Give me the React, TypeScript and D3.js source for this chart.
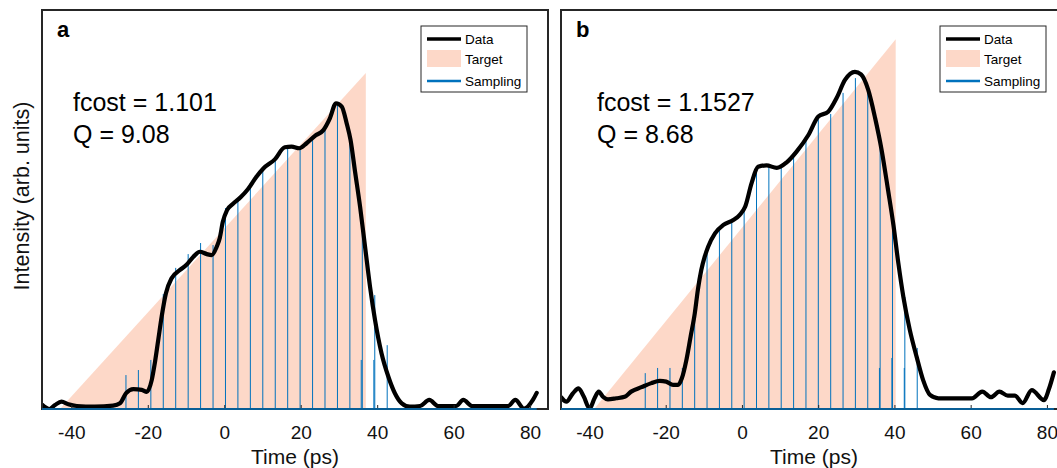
import React from 'react';
import * as d3 from 'd3';

// ---------- data ----------
const xTicks = [-40, -20, 0, 20, 40, 60, 80];
const legendLabels = ['Data', 'Target', 'Sampling'];
const panelLetters = ['a', 'b'];
const fcostValues = ['1.101', '1.1527'];
const qValues = ['9.08', '8.68'];
const xTitle = 'Time (ps)';
const yTitle = 'Intensity (arb. units)';

// panel a
const dataTimeA = [-47.8, -45.9, -44.4, -42.7, -40.9, -38.7, -34.0, -29.2, -27.4, -25.8, -23.9, -21.7, -20.4, -19.1, -18.3, -17.4, -16.5, -15.4, -13.9, -11.7, -10.0, -8.2, -6.5, -4.7, -3.4, -2.1, -1.3, -0.5, 0.6, 2.1, 4.2, 6.1, 8.2, 10.1, 13.1, 15.7, 17.5, 19.5, 21.4, 23.6, 25.8, 27.5, 29.1, 30.6, 31.9, 32.9, 34.1, 35.4, 36.7, 38.0, 39.3, 41.0, 42.8, 44.5, 46.3, 48.4, 51.1, 53.5, 55.8, 60.5, 62.4, 64.7, 74.1, 76.0, 78.3, 80.6, 81.6];
const dataIntA = [0.013, 0.0, 0.012, 0.022, 0.014, 0.009, 0.007, 0.010, 0.017, 0.047, 0.059, 0.057, 0.051, 0.086, 0.136, 0.205, 0.275, 0.344, 0.389, 0.414, 0.429, 0.453, 0.468, 0.461, 0.458, 0.483, 0.509, 0.557, 0.592, 0.610, 0.631, 0.655, 0.690, 0.716, 0.743, 0.779, 0.781, 0.776, 0.791, 0.813, 0.830, 0.865, 0.910, 0.900, 0.850, 0.801, 0.705, 0.602, 0.483, 0.364, 0.265, 0.166, 0.096, 0.047, 0.017, 0.007, 0.009, 0.027, 0.009, 0.009, 0.027, 0.009, 0.009, 0.027, 0.001, 0.027, 0.048];
const targetTimeA = [-43.1, 36.9, 36.9];
const targetIntA = [0, 1, 0];
const sampleTimeA = [-25.84, -22.59, -19.33, -16.08, -12.83, -9.57, -6.32, -3.06, 0.19, 3.44, 6.70, 9.95, 13.21, 16.46, 19.71, 22.97, 26.22, 29.48, 32.73, 35.98, 39.24, 42.49];
const sampleIntA = [0.101, 0.116, 0.146, 0.342, 0.420, 0.461, 0.494, 0.488, 0.598, 0.628, 0.673, 0.717, 0.744, 0.780, 0.777, 0.810, 0.839, 0.908, 0.810, 0.583, 0.339, 0.190];
const extraTimeA = [35.7, 39.0];
const extraIntA = [0.146, 0.146];

// panel b
const dataTimeB = [-47.6, -46.2, -44.5, -43.0, -41.6, -40.1, -38.8, -37.7, -36.6, -35.3, -33.1, -30.9, -29.2, -26.5, -23.9, -21.7, -20.0, -18.2, -16.9, -15.9, -14.7, -13.6, -12.5, -11.7, -10.8, -9.9, -9.0, -7.2, -5.0, -2.4, -0.7, 0.7, 2.4, 4.1, 6.3, 9.0, 11.6, 14.2, 17.3, 19.9, 22.5, 24.7, 26.9, 29.5, 31.1, 33.0, 34.8, 36.5, 38.2, 39.6, 40.9, 42.2, 43.9, 45.7, 47.4, 49.2, 51.4, 60.2, 62.9, 65.2, 67.4, 69.6, 71.5, 73.5, 75.9, 79.1, 80.4, 81.7];
const dataIntB = [0.032, 0.020, 0.042, 0.056, 0.033, 0.001, 0.029, 0.047, 0.033, 0.026, 0.029, 0.033, 0.047, 0.059, 0.070, 0.076, 0.074, 0.065, 0.065, 0.083, 0.133, 0.196, 0.259, 0.322, 0.376, 0.412, 0.439, 0.475, 0.498, 0.511, 0.525, 0.547, 0.611, 0.655, 0.659, 0.652, 0.667, 0.696, 0.741, 0.791, 0.804, 0.841, 0.890, 0.912, 0.905, 0.863, 0.787, 0.701, 0.592, 0.498, 0.394, 0.304, 0.214, 0.141, 0.078, 0.038, 0.029, 0.029, 0.047, 0.032, 0.047, 0.036, 0.036, 0.016, 0.051, 0.024, 0.054, 0.099];
const targetTimeB = [-38.9, 40.2, 40.2];
const targetIntB = [0, 1, 0];
const sampleTimeB = [-25.50, -22.26, -19.01, -15.77, -12.53, -9.29, -6.04, -2.80, 0.44, 3.69, 6.93, 10.17, 13.42, 16.66, 19.90, 23.15, 26.39, 29.63, 32.87, 36.12, 39.36, 42.60, 45.85];
const sampleIntB = [0.097, 0.111, 0.111, 0.111, 0.249, 0.419, 0.490, 0.514, 0.546, 0.649, 0.657, 0.655, 0.684, 0.728, 0.784, 0.798, 0.855, 0.895, 0.866, 0.741, 0.484, 0.303, 0.165];
const extraTimeB = [35.94, 39.2, 42.45];
const extraIntB = [0.111, 0.138, 0.111];

// ---------- layout ----------
const W = 1057;
const H = 468;
const PW = 506;
const TOP = 10;
const BOTTOM = 409;
const FONT = '"Liberation Sans", Arial, Helvetica, sans-serif';
const BLUE = '#0072BD';
const PINK = '#FDD8C8';
const AXIS = '#262626';

const panels = [
  {
    left: 42, xDomain: [-47.8, 84.55], yMax: 1.1875,
    t: dataTimeA, v: dataIntA, tt: targetTimeA, tv: targetIntA,
    st: sampleTimeA, sv: sampleIntA, et: extraTimeA, ev: extraIntA,
    textX: 73,
  },
  {
    left: 561, xDomain: [-47.6, 85.14], yMax: 1.0792,
    t: dataTimeB, v: dataIntB, tt: targetTimeB, tv: targetIntB,
    st: sampleTimeB, sv: sampleIntB, et: extraTimeB, ev: extraIntB,
    textX: 597,
  },
];

function Panel({ p, idx }: { p: any; idx: number }) {
  const x = d3.scaleLinear().domain(p.xDomain).range([p.left, p.left + PW]);
  const y = d3.scaleLinear().domain([0, p.yMax]).range([BOTTOM, TOP]);
  const dataLine = d3
    .line<number>()
    .x((d) => x(d))
    .y((_, i) => y(p.v[i]))
    .curve(d3.curveMonotoneX);
  const targetArea = d3
    .line<number>()
    .x((d) => x(d))
    .y((_, i) => y(p.tv[i]));
  const clipId = `clip-${idx}`;
  const lg = { x: p.left + 379, y: 26, w: 106, h: 66 };
  const cx = p.left + PW / 2;
  return (
    <g>
      <defs>
        <clipPath id={clipId}>
          <rect x={p.left} y={TOP} width={PW} height={BOTTOM - TOP} />
        </clipPath>
      </defs>
      <rect x={p.left} y={TOP} width={PW} height={BOTTOM - TOP} fill="#fff" />
      <g clipPath={`url(#${clipId})`}>
        <path d={targetArea(p.tt) + 'Z'} fill={PINK} />
        {p.st.map((t: number, i: number) => (
          <line key={'s' + i} x1={x(t)} x2={x(t)} y1={y(0)} y2={y(p.sv[i])} stroke={BLUE} strokeWidth={1} />
        ))}
        {p.et.map((t: number, i: number) => (
          <line key={'e' + i} x1={x(t)} x2={x(t)} y1={y(0)} y2={y(p.ev[i])} stroke={BLUE} strokeWidth={1} />
        ))}
        <path d={dataLine(p.t) || ''} fill="none" stroke="#000" strokeWidth={4.2} strokeLinejoin="round" strokeLinecap="round" />
      </g>
      {xTicks.map((t) => (
        <line key={'tk' + t} x1={x(t)} x2={x(t)} y1={BOTTOM} y2={BOTTOM - 4} stroke={AXIS} strokeWidth={1} />
      ))}
      <rect x={p.left} y={TOP} width={PW} height={BOTTOM - TOP} fill="none" stroke={AXIS} strokeWidth={2} />
      <line x1={x(p.t[0])} x2={x(p.t[p.t.length - 1])} y1={y(0)} y2={y(0)} stroke={BLUE} strokeWidth={1.3} />
      {xTicks.map((t) => (
        <text key={'tl' + t} x={x(t)} y={439} fontSize={19} textAnchor="middle" fill="#111" fontFamily={FONT}>
          {t < 0 ? '-' + Math.abs(t) : String(t)}
        </text>
      ))}
      <text x={cx} y={464} fontSize={21} textAnchor="middle" fill="#111" fontFamily={FONT}>{xTitle}</text>
      <text x={p.left + 15} y={37} fontSize={22} fontWeight="bold" fill="#000" fontFamily={FONT}>{panelLetters[idx]}</text>
      <text x={p.textX} y={111} fontSize={25} fill="#000" fontFamily={FONT}>{'fcost = ' + fcostValues[idx]}</text>
      <text x={p.textX} y={143} fontSize={25} fill="#000" fontFamily={FONT}>{'Q = ' + qValues[idx]}</text>
      <g>
        <rect x={lg.x} y={lg.y} width={lg.w} height={lg.h} fill="#fff" stroke={AXIS} strokeWidth={1} />
        <line x1={lg.x + 6} x2={lg.x + 40} y1={lg.y + 13} y2={lg.y + 13} stroke="#000" strokeWidth={3.5} />
        <rect x={lg.x + 6} y={lg.y + 24} width={34} height={17} fill={PINK} />
        <line x1={lg.x + 6} x2={lg.x + 40} y1={lg.y + 55} y2={lg.y + 55} stroke={BLUE} strokeWidth={2.5} />
        {legendLabels.map((l, i) => (
          <text key={l} x={lg.x + 44} y={lg.y + [13, 33, 55][i] + 5} fontSize={13.5} fill="#000" fontFamily={FONT}>{l}</text>
        ))}
      </g>
    </g>
  );
}

export default function App() {
  return (
    <div style={{ position: 'absolute', left: 0, top: 0, width: W, height: H, overflow: 'hidden', background: '#fff' }}>
      <svg width={W} height={H} viewBox={`0 0 ${W} ${H}`} style={{ display: 'block' }}>
        <rect x={0} y={0} width={W} height={H} fill="#fff" />
        {panels.map((p, i) => (
          <Panel key={i} p={p} idx={i} />
        ))}
        <text transform={`translate(29, 196) rotate(-90)`} fontSize={21.5} textAnchor="middle" fill="#111" fontFamily={FONT}>{yTitle}</text>
      </svg>
    </div>
  );
}
